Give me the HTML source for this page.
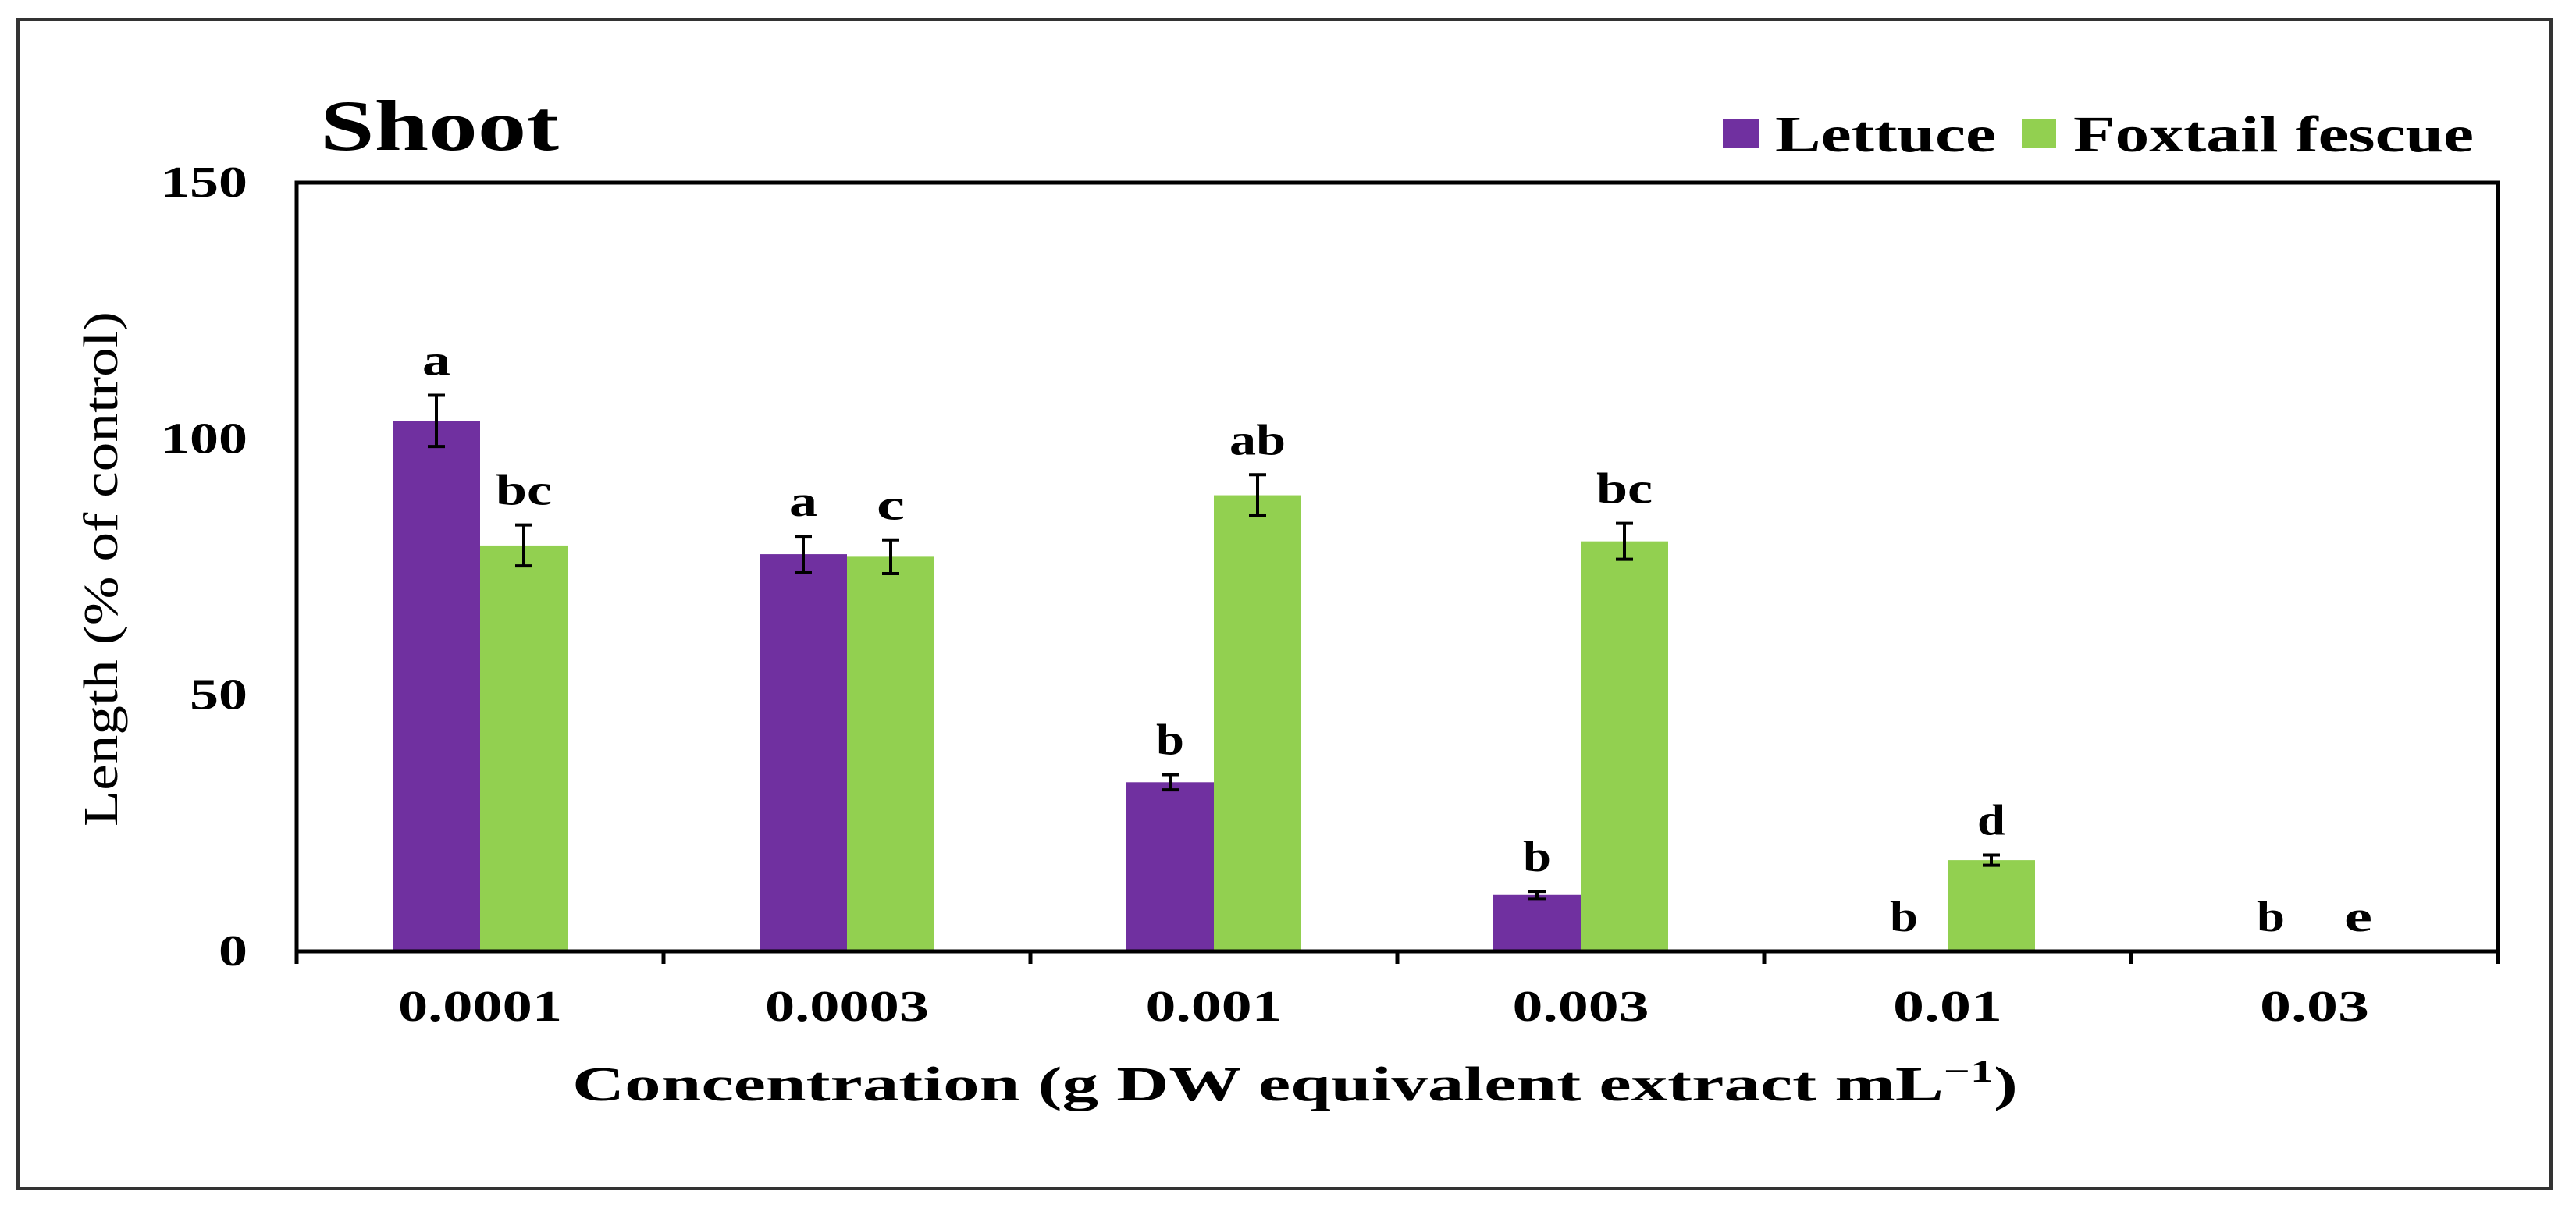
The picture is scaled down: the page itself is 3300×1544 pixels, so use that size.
<!DOCTYPE html>
<html><head><meta charset="utf-8"><style>
html,body{margin:0;padding:0;background:#fff;}
svg{display:block;}
text{font-family:"Liberation Serif",serif;font-weight:bold;fill:#000;}
</style></head><body>
<svg id="chart" width="3300" height="1544" viewBox="0 0 3300 1544" xmlns="http://www.w3.org/2000/svg">
<rect x="23" y="25" width="3245" height="1498" fill="#fff" stroke="#333" stroke-width="4"/>
<text x="410" y="192" font-size="92" textLength="306" lengthAdjust="spacingAndGlyphs">Shoot</text>
<g>
<rect x="2207" y="153" width="46" height="36" fill="#7030A0"/>
<text x="2274" y="194" font-size="66" textLength="283" lengthAdjust="spacingAndGlyphs">Lettuce</text>
<rect x="2590" y="153" width="44" height="36" fill="#92D050"/>
<text x="2656" y="194" font-size="66" textLength="513" lengthAdjust="spacingAndGlyphs">Foxtail fescue</text>
</g>
<g id="plot"></g>
<text transform="translate(150,729) rotate(-90)" text-anchor="middle" font-size="62" font-weight="normal" style="font-weight:normal" textLength="660" lengthAdjust="spacingAndGlyphs">Length (% of control)</text>
<text x="1659" y="1410" text-anchor="middle" font-size="62" textLength="1852" lengthAdjust="spacingAndGlyphs">Concentration (g DW equivalent extract mL<tspan font-size="40" dy="-24">−1</tspan><tspan dy="24">)</tspan></text>
</svg>
<script>
const categories = ["0.0001","0.0003","0.001","0.003","0.01","0.03"];
const lettuce = [103.5, 77.5, 33, 11, 0, 0];
const lettuceErr = [5, 3.5, 1.5, 0.7, 0, 0];
const lettuceLetters = ["a","a","b","b","b","b"];
const foxtail = [79.2, 77, 89, 80, 17.8, 0];
const foxtailErr = [4, 3.3, 4, 3.5, 1, 0];
const foxtailLetters = ["bc","c","ab","bc","d","e"];
const yTicks = [0, 50, 100, 150];

const NS = "http://www.w3.org/2000/svg";
const plot = document.getElementById("plot");
const X0 = 380, X1 = 3200, Y0 = 1219, Y1 = 234, YMAX = 150;
const catW = (X1 - X0) / categories.length;
const barW = 112;
function y(v){ return Y0 - v / YMAX * (Y0 - Y1); }
function cx(i){ return X0 + catW * (i + 0.5); }
function mk(tag, attrs){ const e = document.createElementNS(NS, tag); for (const k in attrs) e.setAttribute(k, attrs[k]); plot.appendChild(e); return e; }

const series = [
  {vals: lettuce, err: lettuceErr, letters: lettuceLetters, color: "#7030A0", off: -1, name: "lettuce"},
  {vals: foxtail, err: foxtailErr, letters: foxtailLetters, color: "#92D050", off: 0, name: "foxtail"}
];
series.forEach(s => {
  s.vals.forEach((v, i) => {
    const bx = cx(i) + s.off * barW;
    const r = mk("rect", {x: bx, y: y(v), width: barW, height: Y0 - y(v), fill: s.color});
    
    
    const mx = bx + barW / 2;
    if (s.err[i] > 0) {
      const g = mk("path", {d: `M${mx},${y(v + s.err[i])}V${y(v - s.err[i])}M${mx-11},${y(v + s.err[i])}H${mx+11}M${mx-11},${y(v - s.err[i])}H${mx+11}`, stroke: "#000", "stroke-width": 4, fill: "none"});
      
      
    }
    const lbl = s.letters[i];
    const t = mk("text", {x: mx, y: y(v + s.err[i]) - 26, "text-anchor": "middle", "font-size": 56, textLength: lbl.length * 36, lengthAdjust: "spacingAndGlyphs"});
    t.textContent = lbl;
    
    
  });
});

const frame = mk("path", {d: `M${X0},${Y1}H${X1}V${Y0}H${X0}Z`, stroke: "#000", "stroke-width": 5, fill: "none"});


for (let i = 0; i <= categories.length; i++) {
  const tk = mk("line", {x1: X0 + catW * i, x2: X0 + catW * i, y1: Y0, y2: Y0 + 16, stroke: "#000", "stroke-width": 5});
  
  
}
categories.forEach((c, i) => {
  const t = mk("text", {x: cx(i), y: 1308, "text-anchor": "middle", "font-size": 56, textLength: c.length * 35, lengthAdjust: "spacingAndGlyphs"});
  t.textContent = c;
  
  
});
yTicks.forEach(v => {
  const s = String(v);
  const t = mk("text", {x: 317, y: y(v) + 18, "text-anchor": "end", "font-size": 56, textLength: s.length * 37, lengthAdjust: "spacingAndGlyphs"});
  t.textContent = s;
  
  
});
</script>
</body></html>
